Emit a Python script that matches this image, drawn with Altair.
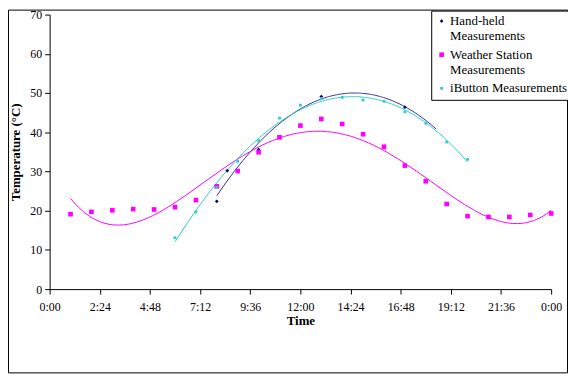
import altair as alt
import pandas as pd

# ---------------- data ----------------
ws_hours = [1, 2, 3, 4, 5, 6, 7, 8, 9, 10, 11, 12, 13, 14, 15, 16, 17, 18, 19, 20, 21, 22, 23, 24]
ws_temps = [19.1, 19.7, 20.1, 20.4, 20.3, 20.9, 22.7, 26.2, 30.1, 34.9, 38.7, 41.7,
            43.4, 42.1, 39.5, 36.3, 31.5, 27.5, 21.7, 18.6, 18.4, 18.4, 18.9, 19.3]

ib_hours = [6, 7, 8, 9, 10, 11, 12, 13, 14, 15, 16, 17, 18, 19, 20]
ib_temps = [13.1, 19.7, 25.9, 32.6, 37.9, 43.6, 46.9, 48.6, 48.9, 48.2, 47.9, 45.2, 42.3, 37.5, 33.1]

hh_hours = [8, 8.5, 10, 13, 17]
hh_temps = [22.4, 30.2, 35.6, 49.1, 46.4]

series_names = ["Hand-held|Measurements", "Weather Station|Measurements", "iButton Measurements"]
marker_colors = ["#000080", "#FF00FF", "#33CCCC"]
trend_colors = ["#333399", "#FF00FF", "#33CCCC"]
marker_shapes = ["diamond", "square", "square"]
marker_sizes = [14, 22, 8]

x_tick_values = [0, 2.4, 4.8, 7.2, 9.6, 12, 14.4, 16.8, 19.2, 21.6, 24]
x_tick_labels = ["0:00", "2:24", "4:48", "7:12", "9:36", "12:00", "14:24", "16:48", "19:12", "21:36", "0:00"]
y_tick_values = [0, 10, 20, 30, 40, 50, 60, 70]

# trendline settings (polynomial order, fitted range)
trend_orders = [2, 4, 3]
trend_extents = [[8, 18.5], [1, 24], [6, 20]]

# ---------------- build table ----------------
rows = []
for h, t in zip(hh_hours, hh_temps):
    rows.append({"hour": h, "temp": t, "series": series_names[0]})
for h, t in zip(ws_hours, ws_temps):
    rows.append({"hour": h, "temp": t, "series": series_names[1]})
for h, t in zip(ib_hours, ib_temps):
    rows.append({"hour": h, "temp": t, "series": series_names[2]})
df = pd.DataFrame(rows)

FONT = "Liberation Serif"
label_expr = "[" + ",".join("'%s'" % l for l in x_tick_labels) + "][round(datum.value / 2.4)]"

x_enc = alt.X("hour:Q", scale=alt.Scale(domain=[0, 24], nice=False, zero=False),
              axis=alt.Axis(values=x_tick_values, labelExpr=label_expr, title="Time",
                            grid=False, tickSize=5, labelPadding=8, titlePadding=2,
                            labelFont=FONT, labelFontSize=12, labelFlush=False,
                            titleFont=FONT, titleFontSize=13, titleFontWeight="bold"))
y_enc = alt.Y("temp:Q", scale=alt.Scale(domain=[0, 70], nice=False),
              axis=alt.Axis(values=y_tick_values, title="Temperature (°C)", grid=False,
                            tickSize=5, labelPadding=3, titlePadding=7,
                            labelFont=FONT, labelFontSize=12,
                            titleFont=FONT, titleFontSize=13, titleFontWeight="bold"))

base = alt.Chart(df)

layers = []
for i, name in enumerate(series_names):
    trend = base.transform_filter(alt.datum.series == name).transform_regression(
        "hour", "temp", method="poly", order=trend_orders[i], extent=trend_extents[i]
    ).mark_line(color=trend_colors[i], strokeWidth=1).encode(x=x_enc, y=y_enc)
    layers.append(trend)

points = base.mark_point(filled=True, opacity=1).encode(
    x=x_enc, y=y_enc,
    color=alt.Color("series:N", scale=alt.Scale(domain=series_names, range=marker_colors),
                    legend=alt.Legend(orient="none", legendX=385, legendY=-4, title=None,
                                      strokeColor="black", fillColor="white", padding=4,
                                      labelFont=FONT, labelFontSize=13, labelColor="black",
                                      labelExpr="split(datum.label, '|')",
                                      symbolSize=14, labelOffset=2, rowPadding=5,
                                      labelLimit=200)),
    shape=alt.Shape("series:N", scale=alt.Scale(domain=series_names, range=marker_shapes)),
    size=alt.Size("series:N", scale=alt.Scale(type="ordinal", domain=series_names, range=marker_sizes),
                  legend=None),
)
layers.append(points)

border = alt.Chart(pd.DataFrame({"a": [0]})).mark_rect(
    fillOpacity=0, stroke="black", strokeWidth=1
).encode(x=alt.value(-41.5), x2=alt.value(522.5), y=alt.value(-4.5), y2=alt.value(361.5))

chart = alt.layer(border, *layers).properties(
    width=506, height=277,
    autosize=alt.AutoSizeParams(type="none"),
    padding={"left": 42, "top": 5, "right": 17, "bottom": 85},
    background="white",
).configure_view(stroke="transparent").configure_axis(
    labelFont=FONT, titleFont=FONT, labelColor="black", titleColor="black",
    domainColor="black", tickColor="black"
)

chart.save("out.html", embed_options={"renderer": "svg", "actions": False})
